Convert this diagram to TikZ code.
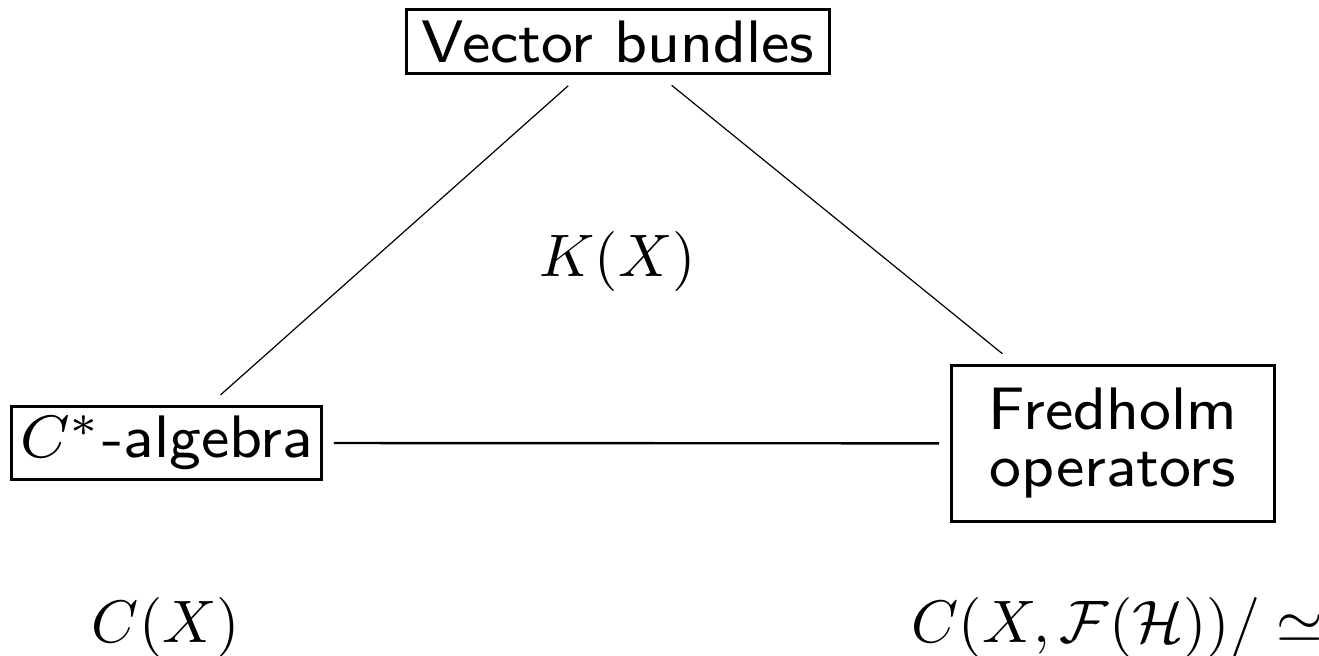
\documentclass[tikz,border=0pt]{standalone}
\usepackage{amsmath}
\usepackage{amssymb}
\usepackage{tikz}

\begin{document}
\begin{tikzpicture}[box/.style={draw, line width=0.5pt, scale=1.25, transform shape, inner xsep=2pt, inner ysep=1.5pt,
                                font=\sffamily\fontsize{8}{7.6}\selectfont, align=center},
                    link/.style={shorten >=2.5pt, shorten <=2.5pt, line width=0.2pt}]
            \useasboundingbox (0, 0) rectangle (7.73, 3.844);

            \node[box] (vb) at (3.621, 3.6) {Vector bundles};
            \node[box, inner xsep=1.2pt, inner ysep=1.2pt] (cstar) at (0.976, 1.248) {$C^*$-algebra};
            \node[box, inner xsep=5pt, inner ysep=3.1pt] (fred) at (6.522, 1.245) {Fredholm\\operators};

            \node (kx) at (3.62, 2.309) {$K(X)$};
            \node (cx) at (0.973, 0.164) {$C(X)$};
            \node (cf) at (6.55, 0.164) {$C(X, \mathcal{F}(\mathcal{H}))/\simeq$};

            \draw[link] (vb) -- (cstar);
            \draw[link] (vb) -- (fred);
            \draw[shorten >=1.7pt, shorten <=1.7pt] (cstar) -- (fred);
        \end{tikzpicture}
\end{document}
